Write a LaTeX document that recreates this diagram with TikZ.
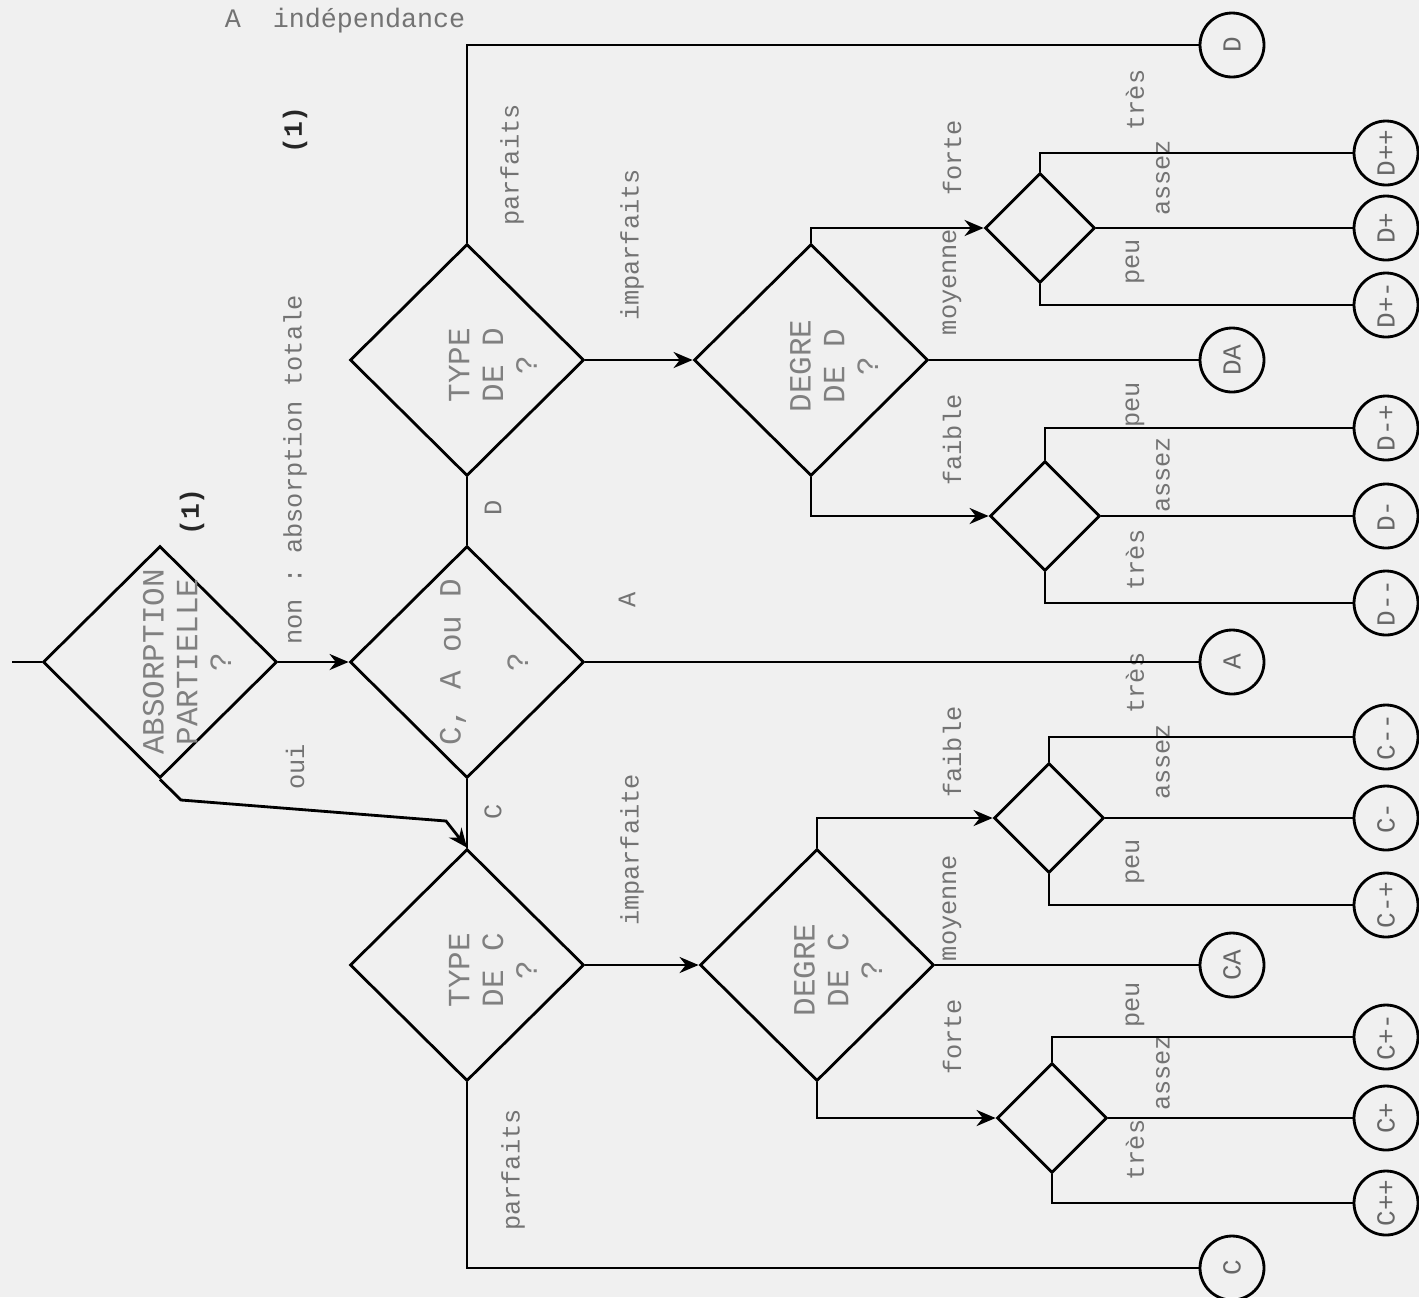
\documentclass[tikz,border=0pt]{standalone}
\usepackage{fontspec}
\setmonofont{Liberation Mono}
\usepackage{tikz}
\usetikzlibrary{shapes.geometric, arrows.meta}

\begin{document}
\begin{tikzpicture}[x=0.1mm, y=-0.1mm,
    decision/.style={draw, thick, diamond, minimum width=23.4mm, minimum height=23.2mm, inner sep=0pt},
    subdec/.style={draw, thick, diamond, minimum width=11mm, minimum height=11mm, inner sep=0pt},
    outcome/.style={draw, thick, circle, minimum size=6.4mm, inner sep=0pt, rotate=90,
                    font=\ttfamily\fontsize{7.4}{8}\selectfont, text=black!60},
    qtext/.style={rotate=90, align=center, text=black!50, font=\ttfamily\fontsize{8.8}{9.6}\selectfont},
    lbl/.style={rotate=90, text=black!55, font=\ttfamily\fontsize{7.2}{9}\selectfont},
    note/.style={rotate=90, text=black!85, font=\ttfamily\bfseries\fontsize{7.5}{9}\selectfont},
    arrow/.style={-{Stealth[length=1.9mm, width=1.6mm]}, thick}
  ]
    \fill[black!6] (0,0) rectangle (1419,1297);
    \useasboundingbox (0,0) rectangle (1419,1297);

    \node[text=black!55, font=\ttfamily\fontsize{7.6}{9}\selectfont, anchor=base] (titre) at (345,27) {A~~indépendance};

    % questions
    \node[decision] (abs)  at (160,662) {};
    \node[decision] (cad)  at (467,662) {};
    \node[decision] (typD) at (467,360) {};
    \node[decision] (typC) at (467,965) {};
    \node[decision] (degD) at (811,360) {};
    \node[decision] (degC) at (817,965) {};
    \node[subdec] (sDp) at (1040,228) {};
    \node[subdec] (sDm) at (1045,516) {};
    \node[subdec] (sCm) at (1049,818) {};
    \node[subdec] (sCp) at (1052,1118) {};

    \node[qtext] (tAbs)  at (187,662) {ABSORPTION\\PARTIELLE\\?};
    \node[qtext] (tCad)  at (484,662) {C, A ou D\\~\\?};
    \node[qtext] (tTypD) at (493,365) {TYPE\\DE D\\?};
    \node[qtext] (tTypC) at (493,970) {TYPE\\DE C\\?};
    \node[qtext] (tDegD) at (834,366) {DEGRE\\DE D\\?};
    \node[qtext] (tDegC) at (838,970) {DEGRE\\DE C\\?};

    % resultats
    \node[outcome] (cD)   at (1232,45)   {D};
    \node[outcome] (cDA)  at (1232,360)  {DA};
    \node[outcome] (cA)   at (1232,662)  {A};
    \node[outcome] (cCA)  at (1232,965)  {CA};
    \node[outcome] (cC)   at (1232,1268) {C};
    \node[outcome] (cDpp) at (1386,153)  {D++};
    \node[outcome] (cDp)  at (1386,228)  {D+};
    \node[outcome] (cDpm) at (1386,305)  {D+-};
    \node[outcome] (cDmp) at (1386,428)  {D-+};
    \node[outcome] (cDm)  at (1386,516)  {D-};
    \node[outcome] (cDmm) at (1386,603)  {D--};
    \node[outcome] (cCmm) at (1386,737)  {C--};
    \node[outcome] (cCm)  at (1386,818)  {C-};
    \node[outcome] (cCmp) at (1386,905)  {C-+};
    \node[outcome] (cCpm) at (1386,1037) {C+-};
    \node[outcome] (cCp)  at (1386,1118) {C+};
    \node[outcome] (cCpp) at (1386,1203) {C++};

    % labels
    \node[lbl] (lNon)    at (295,470)  {non : absorption totale};
    \node[note] (n1)     at (295,130)  {(1)};
    \node[note] (n2)     at (192,512)  {(1)};
    \node[lbl] (lOui)    at (295,767)  {oui};
    \node[lbl] (lD)      at (493,508)  {D};
    \node[lbl] (lC)      at (493,812)  {C};
    \node[lbl] (lA)      at (627,600)  {A};
    \node[lbl] (lParfD)  at (512,165)  {parfaits};
    \node[lbl] (lImpD)   at (632,245)  {imparfaits};
    \node[lbl] (lImpC)   at (632,850)  {imparfaite};
    \node[lbl] (lParfC)  at (513,1170) {parfaits};
    \node[lbl] (lForteD) at (952,158)  {forte};
    \node[lbl] (lMoyD)   at (952,282)  {moyenne};
    \node[lbl] (lFaibD)  at (952,440)  {faible};
    \node[lbl] (lFaibC)  at (952,752)  {faible};
    \node[lbl] (lMoyC)   at (952,908)  {moyenne};
    \node[lbl] (lForteC) at (952,1037) {forte};
    \node[lbl] (lTr1) at (1135,100)  {très};
    \node[lbl] (lAs1) at (1163,178)  {assez};
    \node[lbl] (lPe1) at (1135,262)  {peu};
    \node[lbl] (lPe2) at (1135,405)  {peu};
    \node[lbl] (lAs2) at (1163,475)  {assez};
    \node[lbl] (lTr2) at (1135,560)  {très};
    \node[lbl] (lTr3) at (1135,683)  {très};
    \node[lbl] (lAs3) at (1163,762)  {assez};
    \node[lbl] (lPe3) at (1135,862)  {peu};
    \node[lbl] (lPe4) at (1135,1005) {peu};
    \node[lbl] (lAs4) at (1163,1073) {assez};
    \node[lbl] (lTr4) at (1135,1150) {très};

    % liaisons
    \coordinate (entree) at (12,662);
    \draw[thick] (entree) -- (abs.west);
    \draw[arrow] (abs.east) -- (cad.west);
    \draw[arrow] (abs.south) -- (181,800) -- (446,821) -- (typC.north);
    \draw[thick] (cad.north) -- (typD.south);
    \draw[thick] (cad.south) -- (typC.north);
    \draw[thick] (cad.east) -- (cA);
    \draw[thick] (typD.north) |- (cD);
    \draw[arrow] (typD.east) -- (degD.west);
    \draw[thick] (degD.east) -- (cDA);
    \draw[arrow] (degD.north) |- (sDp.west);
    \draw[arrow] (degD.south) |- (sDm.west);
    \draw[thick] (sDp.north) |- (cDpp);
    \draw[thick] (sDp.east) -- (cDp);
    \draw[thick] (sDp.south) |- (cDpm);
    \draw[thick] (sDm.north) |- (cDmp);
    \draw[thick] (sDm.east) -- (cDm);
    \draw[thick] (sDm.south) |- (cDmm);
    \draw[thick] (typC.south) |- (cC);
    \draw[arrow] (typC.east) -- (degC.west);
    \draw[thick] (degC.east) -- (cCA);
    \draw[arrow] (degC.north) |- (sCm.west);
    \draw[arrow] (degC.south) |- (sCp.west);
    \draw[thick] (sCm.north) |- (cCmm);
    \draw[thick] (sCm.east) -- (cCm);
    \draw[thick] (sCm.south) |- (cCmp);
    \draw[thick] (sCp.north) |- (cCpm);
    \draw[thick] (sCp.east) -- (cCp);
    \draw[thick] (sCp.south) |- (cCpp);
  \end{tikzpicture}
\end{document}
